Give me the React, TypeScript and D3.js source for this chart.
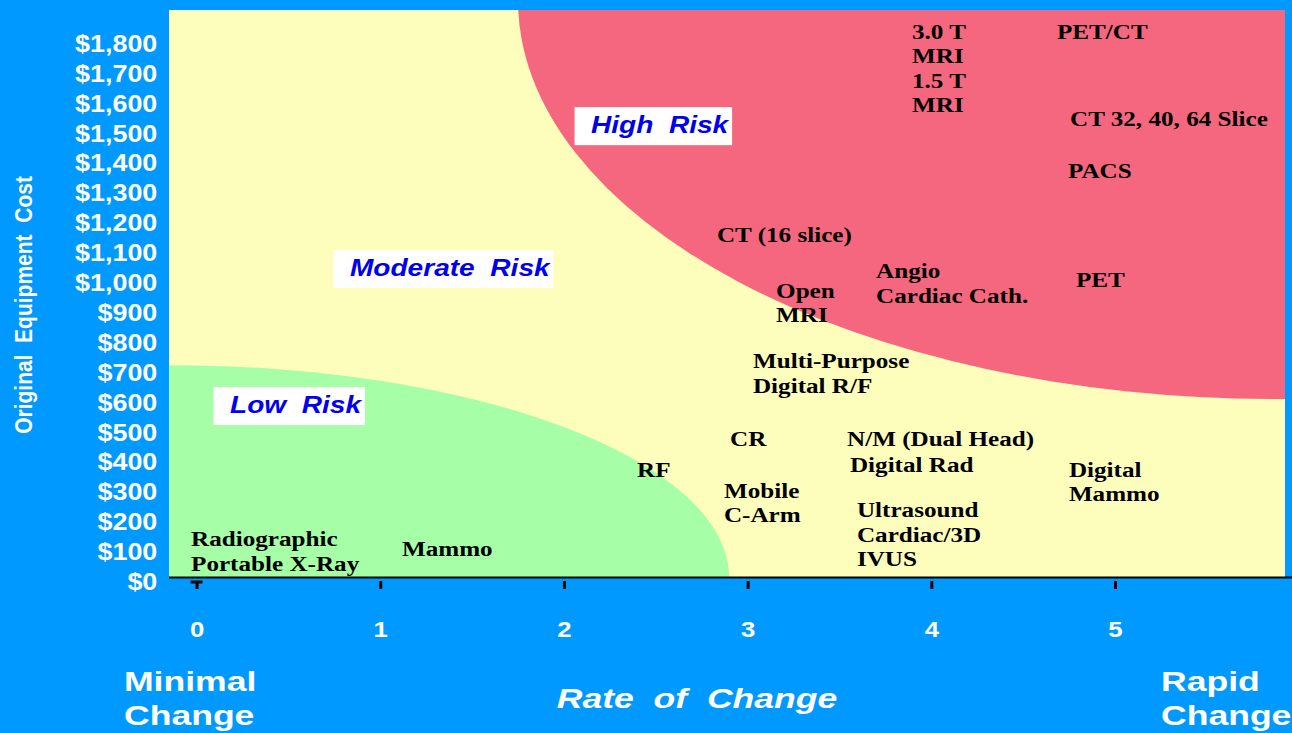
import React, { useEffect, useRef } from "react";
import * as d3 from "d3";

// axis ticks
const rateTicks = [0, 1, 2, 3, 4, 5];
const costTicks = [0, 100, 200, 300, 400, 500, 600, 700, 800, 900, 1000, 1100, 1200, 1300, 1400, 1500, 1600, 1700, 1800];

// risk zones (ellipses in data units)
const zoneColors = ["#F5677F", "#A6FFA6"];
const zoneRate = [5.86, -0.15];
const zoneCost = [1933, 0];
const zoneRateRadius = [4.11, 3.05];
const zoneCostRadius = [1334, 712];

// risk labels
const riskNames = ["High  Risk", "Moderate  Risk", "Low  Risk"];
const riskRate = [2.147, 0.835, 0.182];
const riskCost = [1488, 1010, 552];

// equipment labels (rate of change, original cost)
const equipmentNames = [
  ["3.0 T", "MRI", "1.5 T", "MRI"],
  ["PET/CT"],
  ["CT 32, 40, 64 Slice"],
  ["PACS"],
  ["CT (16 slice)"],
  ["Angio", "Cardiac Cath."],
  ["Open", "MRI"],
  ["PET"],
  ["Multi-Purpose", "Digital R/F"],
  ["CR"],
  ["N/M (Dual Head)"],
  ["Digital Rad"],
  ["RF"],
  ["Digital", "Mammo"],
  ["Mobile", "C-Arm"],
  ["Ultrasound", "Cardiac/3D", "IVUS"],
  ["Radiographic", "Portable X-Ray"],
  ["Mammo"],
];
const equipmentRate = [3.895, 4.684, 4.755, 4.744, 2.833, 3.699, 3.155, 4.787, 3.029, 2.904, 3.541, 3.557, 2.398, 4.749, 2.871, 3.595, -0.03, 1.118];
const equipmentCost = [1803, 1803, 1512, 1338, 1124, 1003, 937, 973, 702, 441, 441, 355, 338, 338, 268, 204, 107, 74];

const W = 1292;
const H = 733;
const SANS = "'Liberation Sans', Arial, sans-serif";
const SERIF = "'Liberation Serif', 'Times New Roman', serif";
const STRETCH = 1.17;

const App = () => {
  const ref = useRef<SVGSVGElement | null>(null);

  useEffect(() => {
    if (!ref.current) return;
    const svg = d3.select(ref.current);
    svg.selectAll("*").remove();

    const plot = { left: 169, right: 1285, top: 10, bottom: 578 };

    const x = d3.scaleLinear().domain([-0.15, 5.92]).range([plot.left, 1284]);
    const y = d3.scaleLinear().domain([0, 1900]).range([plot.bottom, plot.top]);

    svg.append("rect").attr("width", W).attr("height", H).attr("fill", "#0099FF");

    svg
      .append("clipPath")
      .attr("id", "plot-clip")
      .append("rect")
      .attr("x", plot.left)
      .attr("y", plot.top)
      .attr("width", plot.right - plot.left)
      .attr("height", 577 - plot.top);

    svg
      .append("rect")
      .attr("x", plot.left)
      .attr("y", plot.top)
      .attr("width", plot.right - plot.left)
      .attr("height", 577 - plot.top)
      .attr("fill", "#FDFDBC");

    const zones = svg.append("g").attr("clip-path", "url(#plot-clip)");
    zoneColors.forEach((c, i) => {
      zones
        .append("ellipse")
        .attr("cx", x(zoneRate[i]))
        .attr("cy", y(zoneCost[i]))
        .attr("rx", x(zoneRate[i] + zoneRateRadius[i]) - x(zoneRate[i]))
        .attr("ry", y(0) - y(zoneCostRadius[i]))
        .attr("fill", c);
    });

    // x axis line
    svg
      .append("line")
      .attr("x1", plot.left)
      .attr("x2", W)
      .attr("y1", 577.5)
      .attr("y2", 577.5)
      .attr("stroke", "#000")
      .attr("stroke-width", 2);

    // x axis
    const xAxis = svg
      .append("g")
      .attr("transform", `translate(0,581)`)
      .style("color", "#000")
      .call(d3.axisBottom(x).tickValues(rateTicks).tickFormat(d3.format("d")).tickSize(8).tickPadding(32));
    xAxis.select(".domain").remove();
    xAxis.selectAll(".tick line").attr("stroke-width", 3);
    xAxis
      .selectAll(".tick text")
      .attr("fill", "#fff")
      .attr("font-family", SANS)
      .attr("font-weight", "bold")
      .attr("font-size", 22)
      .attr("transform", `scale(${STRETCH},1)`);

    svg
      .append("line")
      .attr("x1", x(0) - 6)
      .attr("x2", x(0) + 6)
      .attr("y1", 582)
      .attr("y2", 582)
      .attr("stroke", "#000")
      .attr("stroke-width", 3);

    // y axis
    const yAxis = svg
      .append("g")
      .attr("transform", `translate(${plot.left},0)`)
      .call(
        d3
          .axisLeft(y)
          .tickValues(costTicks)
          .tickFormat((d) => "$" + d3.format(",")(d as number))
          .tickSize(0)
          .tickPadding(10)
      );
    yAxis.select(".domain").remove();
    yAxis
      .selectAll(".tick text")
      .attr("fill", "#fff")
      .attr("font-family", SANS)
      .attr("font-weight", "bold")
      .attr("font-size", 23)
      .attr("dy", "0.5em")
      .attr("transform", `scale(${STRETCH},1)`);

    svg
      .append("text")
      .attr("transform", `translate(32,305) rotate(-90) scale(1,${STRETCH})`)
      .attr("text-anchor", "middle")
      .attr("fill", "#fff")
      .attr("font-family", SANS)
      .attr("font-weight", "bold")
      .attr("font-size", 21)
      .style("white-space", "pre")
      .text("Original  Equipment  Cost");

    // bottom captions
    const caption = (lines: string[], px: number, anchor: string, italic = false) => {
      const t = svg
        .append("text")
        .attr("transform", `translate(${px},0) scale(1.27,1)`)
        .attr("text-anchor", anchor)
        .attr("fill", "#fff")
        .attr("font-family", SANS)
        .attr("font-weight", "bold")
        .attr("font-style", italic ? "italic" : "normal")
        .attr("font-size", 28)
        .style("white-space", "pre");
      lines.forEach((l, i) => {
        t.append("tspan")
          .attr("x", 0)
          .attr("y", lines.length === 1 ? 708 : 691 + i * 34)
          .text(l);
      });
    };
    caption(["Minimal", "Change"], 124, "start");
    caption(["Rate  of  Change"], 697, "middle", true);
    caption(["Rapid", "Change"], 1161, "start");

    // risk labels
    riskNames.forEach((name, i) => {
      const g = svg
        .append("g")
        .attr("transform", `translate(${x(riskRate[i])},${y(riskCost[i])}) scale(${STRETCH},1)`);
      const box = g.append("rect").attr("fill", "#fff");
      const t = g
        .append("text")
        .attr("fill", "#0000EE")
        .attr("font-family", SANS)
        .attr("font-weight", "bold")
        .attr("font-style", "italic")
        .attr("font-size", 24)
        .style("white-space", "pre")
        .text(name);
      const bb = (t.node() as SVGTextElement).getBBox();
      box
        .attr("x", -14)
        .attr("y", -26)
        .attr("width", bb.width + 16)
        .attr("height", 38);
    });

    // equipment labels
    equipmentNames.forEach((lines, i) => {
      const t = svg
        .append("text")
        .attr("transform", `translate(${x(equipmentRate[i])},${y(equipmentCost[i])}) scale(${STRETCH},1)`)
        .attr("fill", "#000")
        .attr("font-family", SERIF)
        .attr("font-weight", "bold")
        .attr("font-size", 21.5);
      lines.forEach((l, j) => {
        t.append("tspan").attr("x", 0).attr("y", j * 24.5).text(l);
      });
    });
  }, []);

  return (
    <svg
      ref={ref}
      width={W}
      height={H}
      style={{ position: "absolute", left: 0, top: 0, display: "block" }}
    ></svg>
  );
};

export default App;
